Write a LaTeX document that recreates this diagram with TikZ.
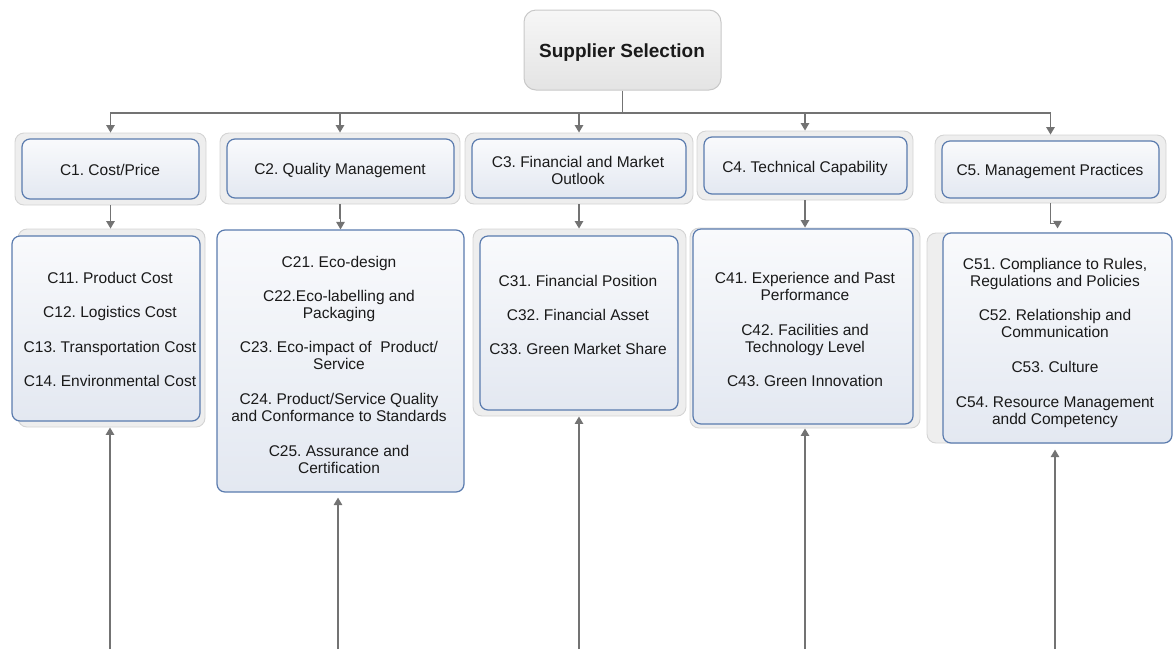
\documentclass[tikz,border=0pt]{standalone}
\usepackage{fontspec}
\setmainfont{Liberation Sans}
\usetikzlibrary{arrows.meta}
\frenchspacing
\definecolor{bordblue}{HTML}{5A7BAE}
\definecolor{boxtop}{HTML}{F9FAFC}
\definecolor{boxbot}{HTML}{E3E8F1}
\definecolor{halofill}{HTML}{EEEEEE}
\definecolor{halodraw}{HTML}{D4D4D4}
\definecolor{rootfill}{HTML}{F0F0F0}
\definecolor{rootdraw}{HTML}{C8C8C8}
\definecolor{conn}{HTML}{737373}
\definecolor{txt}{HTML}{1A1A1A}
\tikzset{
  halo/.style={draw=halodraw, fill=halofill, rounded corners=9pt, line width=0.9pt, inner sep=0pt},
  ibox/.style={draw=bordblue, top color=boxtop, bottom color=boxbot, rounded corners=8pt, line width=1.2pt, inner sep=0pt},
  rootbox/.style={draw=rootdraw, top color=rootfill!60!white, bottom color=rootfill!95!black, rounded corners=12pt, line width=1pt, inner sep=0pt},
  lab/.style={anchor=base, inner sep=0pt, text=txt, font=\fontsize{15.5}{17}\selectfont},
  rootlab/.style={anchor=base, inner sep=0pt, text=txt, font=\fontsize{19}{21}\selectfont\bfseries},
  conn/.style={draw=conn, line width=1.3pt, -{Triangle[width=8.5pt,length=7.5pt]}},
  plain/.style={draw=conn, line width=1.3pt}
}
\begin{document}
\begin{tikzpicture}[x=1pt,y=-1pt]
\useasboundingbox (0,0) rectangle (1175,649);
% root
\node[rootbox, minimum width=197pt, minimum height=80pt] (root) at (622.5,50) {};
\node[rootlab] (roott) at (622,57) {Supplier Selection};
% level 1 halos and boxes
\node[halo, minimum width=191pt, minimum height=72pt] (c1h) at (110.5,169) {};
\node[ibox, minimum width=177pt, minimum height=60pt] (c1) at (110.5,169) {};
\node[halo, minimum width=240pt, minimum height=71pt] (c2h) at (340,168.5) {};
\node[ibox, minimum width=227pt, minimum height=59pt] (c2) at (340.5,168.5) {};
\node[halo, minimum width=228pt, minimum height=71pt] (c3h) at (579,168.5) {};
\node[ibox, minimum width=214pt, minimum height=59pt] (c3) at (579,168.5) {};
\node[halo, minimum width=216pt, minimum height=69pt] (c4h) at (805,165.5) {};
\node[ibox, minimum width=203pt, minimum height=57pt] (c4) at (805.5,165.5) {};
\node[halo, minimum width=231pt, minimum height=68pt] (c5h) at (1050.5,169) {};
\node[ibox, minimum width=217pt, minimum height=57pt] (c5) at (1050.5,169.5) {};
\node[lab] (c1t) at (110,175) {C1. Cost/Price};
\node[lab] (c2t) at (340,174) {C2. Quality Management};
\node[lab] (c3t) at (578,167) {C3. Financial and Market};
\node[lab] (c3u) at (578,184) {Outlook};
\node[lab] (c4t) at (805,172) {C4. Technical Capability};
\node[lab] (c5t) at (1050,175) {C5. Management Practices};
% level 2 halos and boxes
\node[halo, minimum width=187pt, minimum height=198pt] (c1xh) at (111.5,328) {};
\node[ibox, minimum width=188pt, minimum height=185pt] (c1x) at (106,328.5) {};
\node[ibox, minimum width=247pt, minimum height=262pt] (c2x) at (340.5,361) {};
\node[halo, minimum width=213pt, minimum height=187pt] (c3xh) at (579.5,322.5) {};
\node[ibox, minimum width=198pt, minimum height=174pt] (c3x) at (579,323) {};
\node[halo, minimum width=230pt, minimum height=200pt] (c4xh) at (805,328) {};
\node[ibox, minimum width=220pt, minimum height=195pt] (c4x) at (803,326.5) {};
\node[halo, minimum width=243pt, minimum height=210pt] (c5xh) at (1048.5,338) {};
\node[ibox, minimum width=229pt, minimum height=210pt] (c5x) at (1057.5,338) {};
% level 2 texts
\node[lab] (t11) at (110,283) {C11. Product Cost};
\node[lab] (t12) at (110,317) {C12. Logistics Cost};
\node[lab] (t13) at (110,352) {C13. Transportation Cost};
\node[lab] (t14) at (110,386) {C14. Environmental Cost};
\node[lab] (t21) at (339,267) {C21. Eco-design};
\node[lab] (t22) at (339,301) {C22.Eco-labelling and};
\node[lab] (t22b) at (339,318) {Packaging};
\node[lab] (t23) at (339,352) {C23. Eco-impact of\ \ Product/};
\node[lab] (t23b) at (339,369) {Service};
\node[lab] (t24) at (339,404) {C24. Product/Service Quality};
\node[lab] (t24b) at (339,421) {and Conformance to Standards};
\node[lab] (t25) at (339,456) {C25. Assurance and};
\node[lab] (t25b) at (339,473) {Certification};
\node[lab] (t31) at (578,286) {C31. Financial Position};
\node[lab] (t32) at (578,320) {C32. Financial Asset};
\node[lab] (t33) at (578,354) {C33. Green Market Share};
\node[lab] (t41) at (805,283) {C41. Experience and Past};
\node[lab] (t41b) at (805,300) {Performance};
\node[lab] (t42) at (805,335) {C42. Facilities and};
\node[lab] (t42b) at (805,352) {Technology Level};
\node[lab] (t43) at (805,386) {C43. Green Innovation};
\node[lab] (t51) at (1055,269) {C51. Compliance to Rules,};
\node[lab] (t51b) at (1055,286) {Regulations and Policies};
\node[lab] (t52) at (1055,320) {C52. Relationship and};
\node[lab] (t52b) at (1055,337) {Communication};
\node[lab] (t53) at (1055,372) {C53. Culture};
\node[lab] (t54) at (1055,407) {C54. Resource Management};
\node[lab] (t54b) at (1055,424) {andd Competency};
% connectors from root
\coordinate (j) at (622.5,113);
\draw[plain] (root.south) -- (j);
\draw[conn] (j) -| (c1h.north);
\draw[conn] (j) -| (c2h.north);
\draw[conn] (j) -| (c3h.north);
\draw[conn] (j) -| (c4h.north);
\draw[conn] (j) -| (c5h.north);
% level1 -> level2
\draw[conn] (c1h.south) -- (c1h.south |- c1xh.north);
\draw[conn] (c2h.south) -- ++(0,14) -| (c2x.north);
\draw[conn] (c3h.south) -- (c3h.south |- c3xh.north);
\draw[conn] (c4h.south) -- (c4h.south |- c4xh.north);
\draw[conn] (c5h.south) -- ++(0,20) -| ([yshift=4pt]c5x.north);
% bottom arrows
\coordinate (b1) at (110,649);
\coordinate (b2) at (338,649);
\coordinate (b3) at (579,649);
\coordinate (b4) at (805,649);
\coordinate (b5) at (1055,649);
\draw[conn] (b1) -- (b1 |- c1xh.south);
\draw[conn] (b2) -- ([yshift=-5pt]b2 |- c2x.south);
\draw[conn] (b3) -- (b3 |- c3xh.south);
\draw[conn] (b4) -- (b4 |- c4xh.south);
\draw[conn] (b5) -- ([yshift=-6pt]b5 |- c5x.south);
\end{tikzpicture}
\end{document}
